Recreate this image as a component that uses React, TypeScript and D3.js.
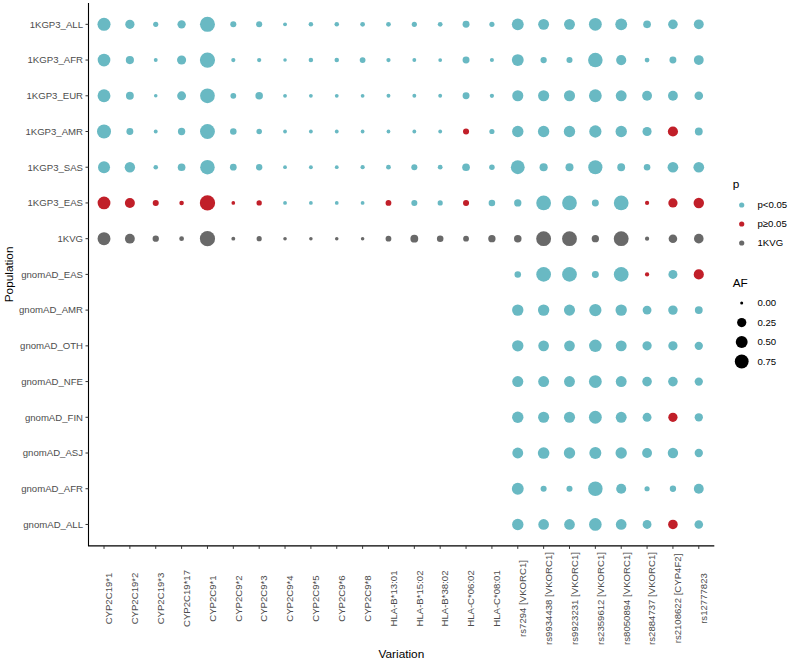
import React from "react";
import * as d3 from "d3";

// Variants on the x axis
const variations = [
  "CYP2C19*1", "CYP2C19*2", "CYP2C19*3", "CYP2C19*17",
  "CYP2C9*1", "CYP2C9*2", "CYP2C9*3", "CYP2C9*4", "CYP2C9*5", "CYP2C9*6", "CYP2C9*8",
  "HLA-B*13:01", "HLA-B*15:02", "HLA-B*38:02", "HLA-C*06:02", "HLA-C*08:01",
  "rs7294 [VKORC1]", "rs9934438 [VKORC1]", "rs9923231 [VKORC1]", "rs2359612 [VKORC1]",
  "rs8050894 [VKORC1]", "rs2884737 [VKORC1]", "rs2108622 [CYP4F2]", "rs12777823",
];

// Populations on the y axis, top to bottom
const populations = [
  "1KGP3_ALL", "1KGP3_AFR", "1KGP3_EUR", "1KGP3_AMR", "1KGP3_SAS", "1KGP3_EAS", "1KVG",
  "gnomAD_EAS", "gnomAD_AMR", "gnomAD_OTH", "gnomAD_NFE", "gnomAD_FIN", "gnomAD_ASJ",
  "gnomAD_AFR", "gnomAD_ALL",
];

// Allele frequencies, one value per variant (all 24 variants)
const af1KGP3_ALL = [0.65, 0.25, 0.03, 0.18, 0.92, 0.06, 0.06, 0.005, 0.015, 0.015, 0.02, 0.02, 0.03, 0.02, 0.1, 0.03, 0.5, 0.4, 0.4, 0.62, 0.5, 0.14, 0.28, 0.3];
const af1KGP3_AFR = [0.6, 0.17, 0.005, 0.24, 0.95, 0.01, 0.01, 0.002, 0.015, 0.015, 0.05, 0.01, 0.005, 0.004, 0.1, 0.008, 0.5, 0.07, 0.06, 0.85, 0.33, 0.02, 0.1, 0.3];
const af1KGP3_EUR = [0.63, 0.15, 0.002, 0.22, 0.88, 0.05, 0.13, 0.004, 0.004, 0.004, 0.004, 0.005, 0.005, 0.005, 0.1, 0.01, 0.42, 0.42, 0.42, 0.62, 0.4, 0.3, 0.3, 0.2];
const af1KGP3_AMR = [0.78, 0.1, 0.005, 0.12, 0.9, 0.08, 0.04, 0.004, 0.004, 0.004, 0.004, 0.004, 0.004, 0.004, 0.06, 0.03, 0.45, 0.45, 0.45, 0.55, 0.45, 0.24, 0.33, 0.15];
const af1KGP3_SAS = [0.52, 0.35, 0.015, 0.14, 0.85, 0.09, 0.07, 0.004, 0.005, 0.004, 0.01, 0.02, 0.06, 0.02, 0.14, 0.04, 0.75, 0.17, 0.16, 0.8, 0.15, 0.08, 0.38, 0.38];
const af1KGP3_EAS = [0.62, 0.31, 0.06, 0.015, 0.97, 0.003, 0.035, 0.004, 0.004, 0.004, 0.004, 0.05, 0.06, 0.03, 0.06, 0.08, 0.12, 0.88, 0.88, 0.1, 0.88, 0.01, 0.25, 0.35];
const af1KVG = [0.63, 0.3, 0.07, 0.02, 0.95, 0.005, 0.03, 0.002, 0.002, 0.002, 0.002, 0.05, 0.15, 0.08, 0.05, 0.12, 0.13, 0.9, 0.9, 0.12, 0.9, 0.01, 0.2, 0.28];

// gnomAD only covers the eight rs variants (last eight columns)
const af_gnomAD_EAS = [0.08, 0.88, 0.88, 0.1, 0.88, 0.01, 0.23, 0.33];
const af_gnomAD_AMR = [0.45, 0.45, 0.42, 0.55, 0.45, 0.22, 0.27, 0.15];
const af_gnomAD_OTH = [0.45, 0.38, 0.38, 0.58, 0.4, 0.25, 0.25, 0.18];
const af_gnomAD_NFE = [0.42, 0.4, 0.4, 0.62, 0.4, 0.28, 0.28, 0.18];
const af_gnomAD_FIN = [0.45, 0.42, 0.42, 0.62, 0.4, 0.22, 0.25, 0.18];
const af_gnomAD_ASJ = [0.4, 0.48, 0.45, 0.52, 0.45, 0.3, 0.35, 0.18];
const af_gnomAD_AFR = [0.5, 0.06, 0.06, 0.85, 0.32, 0.03, 0.07, 0.3];
const af_gnomAD_ALL = [0.45, 0.38, 0.38, 0.6, 0.38, 0.22, 0.28, 0.2];

// Cells whose comparison with 1KVG is not significant (p ≥ 0.05)
const nonSignificant: [string, string][] = [
  ["1KGP3_AMR", "HLA-C*06:02"], ["1KGP3_AMR", "rs2108622 [CYP4F2]"],
  ["1KGP3_EAS", "CYP2C19*1"], ["1KGP3_EAS", "CYP2C19*2"], ["1KGP3_EAS", "CYP2C19*3"],
  ["1KGP3_EAS", "CYP2C19*17"], ["1KGP3_EAS", "CYP2C9*1"], ["1KGP3_EAS", "CYP2C9*2"],
  ["1KGP3_EAS", "CYP2C9*3"], ["1KGP3_EAS", "HLA-B*13:01"], ["1KGP3_EAS", "HLA-C*06:02"],
  ["1KGP3_EAS", "rs2884737 [VKORC1]"], ["1KGP3_EAS", "rs2108622 [CYP4F2]"], ["1KGP3_EAS", "rs12777823"],
  ["gnomAD_EAS", "rs2884737 [VKORC1]"], ["gnomAD_EAS", "rs12777823"],
  ["gnomAD_FIN", "rs2108622 [CYP4F2]"], ["gnomAD_ALL", "rs2108622 [CYP4F2]"],
];

const pLevels = ["p<0.05", "p\u22650.05", "1KVG"];
const pColors = ["#69B9C3", "#C11F29", "#696969"];
const afBreaks = [0, 0.25, 0.5, 0.75];

const afByPopulation: Record<string, number[]> = {
  "1KGP3_ALL": af1KGP3_ALL, "1KGP3_AFR": af1KGP3_AFR, "1KGP3_EUR": af1KGP3_EUR,
  "1KGP3_AMR": af1KGP3_AMR, "1KGP3_SAS": af1KGP3_SAS, "1KGP3_EAS": af1KGP3_EAS, "1KVG": af1KVG,
  gnomAD_EAS: af_gnomAD_EAS, gnomAD_AMR: af_gnomAD_AMR, gnomAD_OTH: af_gnomAD_OTH,
  gnomAD_NFE: af_gnomAD_NFE, gnomAD_FIN: af_gnomAD_FIN, gnomAD_ASJ: af_gnomAD_ASJ,
  gnomAD_AFR: af_gnomAD_AFR, gnomAD_ALL: af_gnomAD_ALL,
};

type Cell = { pop: string; variation: string; af: number; p: string };

const cells: Cell[] = [];
populations.forEach((pop) => {
  const vals = afByPopulation[pop];
  const offset = variations.length - vals.length;
  vals.forEach((af, i) => {
    const variation = variations[i + offset];
    const ns = nonSignificant.some(([a, b]) => a === pop && b === variation);
    cells.push({ pop, variation, af, p: pop === "1KVG" ? "1KVG" : ns ? "p\u22650.05" : "p<0.05" });
  });
});

const W = 789;
const H = 661;
const left = 88.5;
const right = 714.3;
const top = 2.9;
const bottom = 545.9;
const FONT = "'Liberation Sans', Arial, sans-serif";

export default function App() {
  const x = d3.scalePoint<string>().domain(variations).range([left, right]).padding(0.6);
  const y = d3.scalePoint<string>().domain(populations).range([top, bottom]).padding(0.6);
  const r = d3.scaleSqrt().domain([0, 1]).range([1.5, 7.75]);
  const color = d3.scaleOrdinal<string, string>().domain(pLevels).range(pColors);

  const legendX = 741.7;
  const pKeyY = [205, 224, 243];
  const afKeyY = [303, 322.5, 342, 361.5];

  return (
    <svg
      width={W}
      height={H}
      style={{ position: "absolute", left: 0, top: 0, background: "#fff" }}
      fontFamily={FONT}
    >
      <rect width={W} height={H} fill="#fff" />
      {cells.map((c) => (
        <circle
          key={c.pop + c.variation}
          cx={x(c.variation)}
          cy={y(c.pop)}
          r={r(c.af)}
          fill={color(c.p)}
        />
      ))}

      {/* axes */}
      <path d={`M${left},${top}V${bottom}H${right}`} fill="none" stroke="#000" strokeWidth={1.1} />
      {populations.map((p) => (
        <g key={p}>
          <line x1={left - 3} x2={left} y1={y(p)} y2={y(p)} stroke="#333" strokeWidth={1} />
          <text x={left - 5.5} y={y(p)} dy="0.35em" textAnchor="end" fontSize={9.6} fill="#4D4D4D">
            {p}
          </text>
        </g>
      ))}
      {variations.map((v) => (
        <g key={v}>
          <line x1={x(v)} x2={x(v)} y1={bottom} y2={bottom + 3} stroke="#333" strokeWidth={1} />
          <text
            transform={`translate(${(x(v) as number) + 8.3},598.5) rotate(-90)`}
            textAnchor="middle"
            fontSize={9.6}
            fill="#4D4D4D"
          >
            {v}
          </text>
        </g>
      ))}
      <text x={(left + right) / 2} y={658} textAnchor="middle" fontSize={11.8} fill="#000">
        Variation
      </text>
      <text
        transform={`translate(12.5,${(top + bottom) / 2}) rotate(-90)`}
        textAnchor="middle"
        fontSize={11.8}
        fill="#000"
      >
        Population
      </text>

      {/* colour legend */}
      <text x={732.7} y={188} fontSize={11.8} fill="#000">p</text>
      {pLevels.map((lv, i) => (
        <g key={lv}>
          <circle cx={legendX} cy={pKeyY[i]} r={2.6} fill={color(lv)} />
          <text x={757.5} y={pKeyY[i]} dy="0.35em" fontSize={9.6} fill="#000">{lv}</text>
        </g>
      ))}

      {/* size legend */}
      <text x={732.7} y={287} fontSize={11.8} fill="#000">AF</text>
      {afBreaks.map((b, i) => (
        <g key={b}>
          <circle cx={legendX} cy={afKeyY[i]} r={r(b)} fill="#000" />
          <text x={757.5} y={afKeyY[i]} dy="0.35em" fontSize={9.6} fill="#000">{b.toFixed(2)}</text>
        </g>
      ))}
    </svg>
  );
}
